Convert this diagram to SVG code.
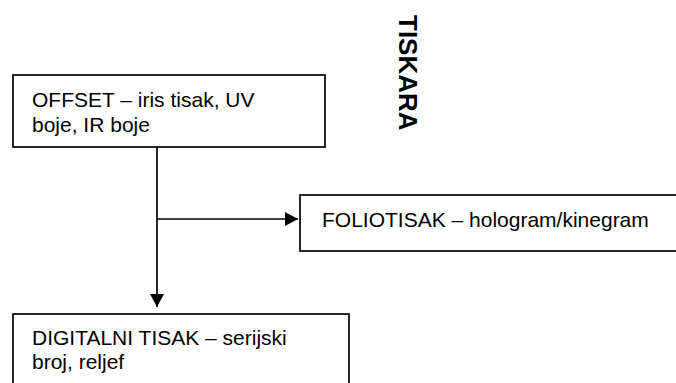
<svg xmlns="http://www.w3.org/2000/svg" width="676" height="383" viewBox="0 0 676 383">
<defs>
<style>
.box{fill:#fff;stroke:#000;stroke-width:1.7}
.t{font-family:"Liberation Sans",Arial,sans-serif;font-size:21px;fill:#000}
.title{font-family:"Liberation Sans",Arial,sans-serif;font-size:26px;font-weight:bold;fill:#000}
.line{fill:none;stroke:#000;stroke-width:1.7}
</style>
<marker id="arr" markerWidth="13" markerHeight="14" refX="13" refY="7" orient="auto" markerUnits="userSpaceOnUse">
<path d="M0,0 L13,7 L0,14 Z" fill="#000"/>
</marker>
</defs>
<rect width="676" height="383" fill="#fff"/>
<g id="title">
<text class="title" transform="translate(399,15) rotate(90)">TISKARA</text>
</g>
<g id="connectors">
<path class="line" d="M157,147 L157,307" marker-end="url(#arr)"/>
<path class="line" d="M157,219 L298,219" marker-end="url(#arr)"/>
</g>
<g id="offset">
<rect class="box" x="13" y="75" width="312" height="72"/>
<text class="t" x="32" y="107">OFFSET – iris tisak, UV</text>
<text class="t" x="32" y="132">boje, IR boje</text>
</g>
<g id="folio">
<rect class="box" x="300" y="195" width="400" height="56"/>
<text class="t" x="322" y="227">FOLIOTISAK – hologram/kinegram</text>
</g>
<g id="digital">
<rect class="box" x="13" y="314" width="336" height="100"/>
<text class="t" x="32" y="345">DIGITALNI TISAK – serijski</text>
<text class="t" x="32" y="369">broj, reljef</text>
</g>
</svg>
